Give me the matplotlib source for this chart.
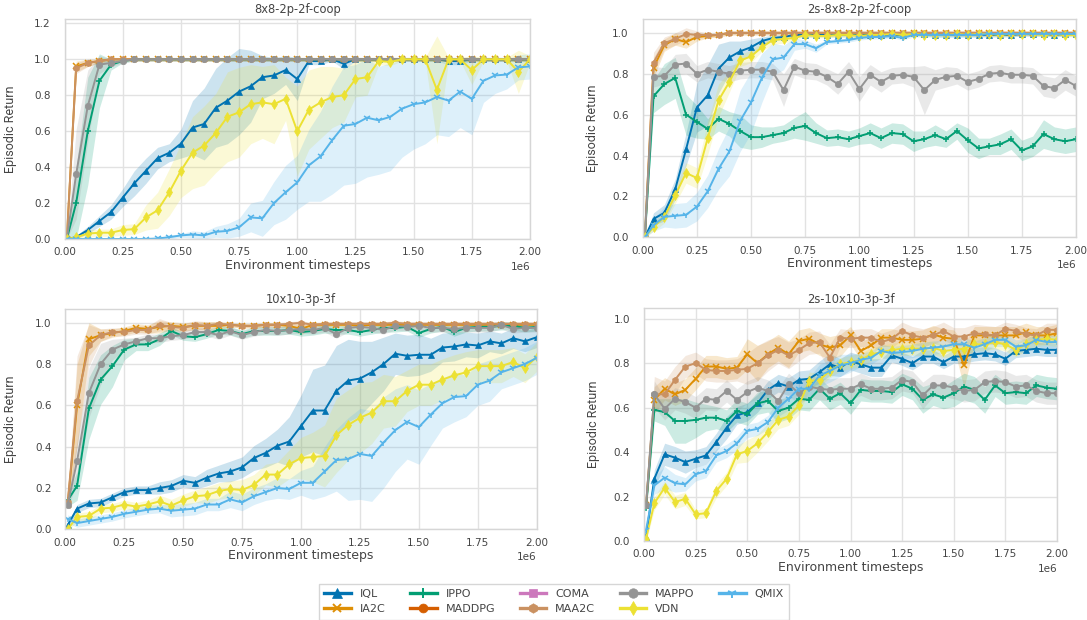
import matplotlib
matplotlib.use("Agg")
import matplotlib.pyplot as plt
from matplotlib.lines import Line2D
import numpy as np

# ---------------- data ----------------
timesteps = [10000] + list(range(50000, 2000001, 50000))

algorithms = ["IQL", "IA2C", "IPPO", "MADDPG", "COMA", "MAA2C", "MAPPO", "VDN", "QMIX"]
colors = ["#0173b2", "#de8f05", "#029e73", "#d55e00", "#cc78bc", "#ca9161", "#949494", "#ece133", "#56b4e9"]
markers = ["^", "x", "+", "o", "s", "h", "o", "d", "1"]
marker_sizes = [4.8, 4.0, 5.0, 4.2, 4.2, 4.6, 4.6, 5.2, 5.0]

titles = ["8x8-2p-2f-coop", "2s-8x8-2p-2f-coop", "10x10-3p-3f", "2s-10x10-3p-3f"]
ytick_sets = [[0.0, 0.2, 0.4, 0.6, 0.8, 1.0, 1.2],
              [0.0, 0.2, 0.4, 0.6, 0.8, 1.0],
              [0.0, 0.2, 0.4, 0.6, 0.8, 1.0],
              [0.0, 0.2, 0.4, 0.6, 0.8, 1.0]]
ytick_labels = [["0.0", "0.2", "0.4", "0.6", "0.8", "1.0", "1.2"],
                ["0.0", "0.2", "0.4", "0.6", "0.8", "1.0"],
                ["0.0", "0.2", "0.4", "0.6", "0.8", "1.0"],
                ["0.0", "0.2", "0.4", "0.6", "0.8", "1.0"]]
xtick_values = [0, 250000, 500000, 750000, 1000000, 1250000, 1500000, 1750000, 2000000]

# ---- panel 1: 8x8-2p-2f-coop ----
coop8_iql = [0.00, 0.01, 0.05, 0.10, 0.15, 0.23, 0.31, 0.38, 0.45, 0.48,
             0.53, 0.62, 0.64, 0.73, 0.77, 0.82, 0.85, 0.90, 0.91, 0.94,
             0.89, 0.99, 0.99, 1.00, 0.975, 1.00, 1.00, 1.00, 1.00, 1.00,
             1.00, 1.00, 1.00, 0.99, 0.99, 1.00, 1.00, 1.00, 1.00, 1.00,
             1.00]
coop8_iql_sd = [0.00, 0.01, 0.02, 0.03, 0.04, 0.05, 0.07, 0.07, 0.06, 0.05,
                0.08, 0.15, 0.20, 0.22, 0.24, 0.24, 0.20, 0.12, 0.10, 0.08,
                0.12, 0.02, 0.02, 0.01, 0.03, 0.01, 0.01, 0.01, 0.01, 0.01,
                0.01, 0.01, 0.01, 0.02, 0.02, 0.01, 0.01, 0.01, 0.01, 0.01,
                0.01]
coop8_ia2c = [0.00, 0.96, 0.98, 0.99, 1.00, 1.00, 1.00, 1.00, 1.00, 1.00,
              1.00, 1.00, 1.00, 1.00, 1.00, 1.00, 1.00, 1.00, 1.00, 1.00,
              1.00, 1.00, 1.00, 1.00, 1.00, 1.00, 1.00, 1.00, 1.00, 1.00,
              1.00, 1.00, 1.00, 1.00, 1.00, 1.00, 1.00, 1.00, 1.00, 1.00,
              1.00]
coop8_ia2c_sd = [0.00, 0.03, 0.02, 0.01, 0.01, 0.01, 0.01, 0.01, 0.01, 0.01,
                 0.01, 0.01, 0.01, 0.01, 0.01, 0.01, 0.01, 0.01, 0.01, 0.01,
                 0.01, 0.01, 0.01, 0.01, 0.01, 0.01, 0.01, 0.01, 0.01, 0.01,
                 0.01, 0.01, 0.01, 0.01, 0.01, 0.01, 0.01, 0.01, 0.01, 0.01,
                 0.01]
coop8_maa2c = [0.00, 0.95, 0.98, 0.99, 1.00, 1.00, 1.00, 1.00, 1.00, 1.00,
               1.00, 1.00, 1.00, 1.00, 1.00, 1.00, 1.00, 1.00, 1.00, 1.00,
               1.00, 1.00, 1.00, 1.00, 1.00, 1.00, 1.00, 1.00, 1.00, 1.00,
               1.00, 1.00, 1.00, 1.00, 1.00, 1.00, 1.00, 1.00, 1.00, 1.00,
               1.00]
coop8_maa2c_sd = [0.00, 0.03, 0.02, 0.01, 0.01, 0.01, 0.01, 0.01, 0.01, 0.01,
                  0.01, 0.01, 0.01, 0.01, 0.01, 0.01, 0.01, 0.01, 0.01, 0.01,
                  0.01, 0.01, 0.01, 0.01, 0.01, 0.01, 0.01, 0.01, 0.01, 0.01,
                  0.01, 0.01, 0.01, 0.01, 0.01, 0.01, 0.01, 0.01, 0.01, 0.01,
                  0.01]
coop8_mappo = [0.00, 0.36, 0.74, 0.97, 0.98, 0.99, 1.00, 1.00, 1.00, 1.00,
               1.00, 1.00, 1.00, 1.00, 1.00, 1.00, 1.00, 1.00, 1.00, 1.00,
               1.00, 1.00, 1.00, 1.00, 1.00, 1.00, 1.00, 1.00, 1.00, 1.00,
               1.00, 1.00, 1.00, 1.00, 1.00, 1.00, 1.00, 1.00, 1.00, 1.00,
               1.00]
coop8_mappo_sd = [0.00, 0.25, 0.20, 0.05, 0.02, 0.01, 0.01, 0.01, 0.01, 0.01,
                  0.01, 0.01, 0.01, 0.01, 0.01, 0.01, 0.01, 0.01, 0.01, 0.01,
                  0.01, 0.01, 0.01, 0.01, 0.01, 0.01, 0.01, 0.01, 0.01, 0.01,
                  0.01, 0.01, 0.01, 0.01, 0.01, 0.01, 0.01, 0.01, 0.01, 0.01,
                  0.01]
coop8_ippo = [0.00, 0.20, 0.60, 0.88, 0.97, 0.99, 1.00, 1.00, 1.00, 1.00,
              1.00, 1.00, 1.00, 1.00, 1.00, 1.00, 1.00, 1.00, 1.00, 1.00,
              1.00, 1.00, 1.00, 1.00, 1.00, 1.00, 1.00, 1.00, 1.00, 1.00,
              1.00, 1.00, 1.00, 1.00, 1.00, 1.00, 1.00, 1.00, 1.00, 1.00,
              1.00]
coop8_ippo_sd = [0.00, 0.20, 0.30, 0.15, 0.03, 0.01, 0.01, 0.01, 0.01, 0.01,
                 0.01, 0.01, 0.01, 0.01, 0.01, 0.01, 0.01, 0.01, 0.01, 0.01,
                 0.01, 0.01, 0.01, 0.01, 0.01, 0.01, 0.01, 0.01, 0.01, 0.01,
                 0.01, 0.01, 0.01, 0.01, 0.01, 0.01, 0.01, 0.01, 0.01, 0.01,
                 0.01]
coop8_vdn = [0.00, 0.01, 0.03, 0.035, 0.035, 0.05, 0.055, 0.12, 0.16, 0.26,
             0.38, 0.48, 0.52, 0.59, 0.68, 0.705, 0.75, 0.76, 0.75, 0.78,
             0.60, 0.72, 0.76, 0.79, 0.80, 0.89, 0.90, 0.99, 0.985, 1.00,
             1.00, 1.00, 0.83, 1.00, 1.00, 0.94, 1.00, 1.00, 1.00, 0.93,
             1.00]
coop8_vdn_sd = [0.00, 0.01, 0.02, 0.02, 0.02, 0.03, 0.03, 0.07, 0.10, 0.13,
                0.15, 0.20, 0.22, 0.22, 0.25, 0.25, 0.22, 0.20, 0.22, 0.12,
                0.25, 0.22, 0.20, 0.17, 0.15, 0.10, 0.10, 0.02, 0.02, 0.01,
                0.01, 0.01, 0.30, 0.01, 0.01, 0.08, 0.01, 0.01, 0.01, 0.12,
                0.02]
coop8_qmix = [0.00, 0.00, 0.00, 0.00, 0.00, 0.00, 0.00, 0.00, 0.003, 0.01,
              0.02, 0.025, 0.02, 0.04, 0.045, 0.065, 0.12, 0.115, 0.20, 0.26,
              0.315, 0.41, 0.46, 0.55, 0.63, 0.64, 0.675, 0.66, 0.68, 0.725,
              0.75, 0.76, 0.79, 0.77, 0.82, 0.78, 0.88, 0.91, 0.915, 0.955,
              0.96]
coop8_qmix_sd = [0.00, 0.00, 0.00, 0.00, 0.00, 0.00, 0.00, 0.00, 0.003, 0.01,
                 0.01, 0.02, 0.02, 0.03, 0.04, 0.05, 0.08, 0.10, 0.12, 0.15,
                 0.15, 0.20, 0.25, 0.30, 0.33, 0.33, 0.33, 0.30, 0.30, 0.27,
                 0.25, 0.23, 0.21, 0.20, 0.20, 0.20, 0.12, 0.10, 0.08, 0.07,
                 0.07]

# ---- panel 2: 2s-8x8-2p-2f-coop ----
s2coop8_iql = [0.00, 0.09, 0.12, 0.235, 0.43, 0.635, 0.695, 0.825, 0.88, 0.91,
               0.93, 0.96, 0.975, 0.98, 0.99, 0.99, 0.99, 0.99, 0.99, 0.99,
               0.99, 0.99, 0.99, 0.99, 0.99, 1.00, 0.995, 0.99, 0.99, 0.99,
               0.99, 0.99, 0.99, 0.99, 0.99, 0.995, 0.995, 0.995, 0.99, 0.995,
               0.995]
s2coop8_iql_sd = [0.00, 0.03, 0.04, 0.05, 0.08, 0.12, 0.15, 0.12, 0.08, 0.05,
                  0.04, 0.02, 0.015, 0.01, 0.01, 0.01, 0.01, 0.01, 0.01, 0.01,
                  0.01, 0.01, 0.01, 0.01, 0.01, 0.01, 0.01, 0.01, 0.01, 0.01,
                  0.01, 0.01, 0.01, 0.01, 0.01, 0.01, 0.01, 0.01, 0.01, 0.01,
                  0.01]
s2coop8_ia2c = [0.00, 0.83, 0.94, 0.97, 0.955, 0.98, 0.985, 0.99, 1.00, 1.00,
                1.00, 1.00, 1.00, 1.00, 1.00, 1.00, 1.00, 1.00, 1.00, 1.00,
                1.00, 1.00, 1.00, 1.00, 1.00, 1.00, 1.00, 1.00, 1.00, 1.00,
                1.00, 1.00, 1.00, 1.00, 1.00, 1.00, 1.00, 1.00, 1.00, 1.00,
                1.00]
s2coop8_ia2c_sd = [0.00, 0.05, 0.03, 0.03, 0.03, 0.02, 0.01, 0.01, 0.01, 0.01,
                   0.01, 0.01, 0.01, 0.01, 0.01, 0.01, 0.01, 0.01, 0.01, 0.01,
                   0.01, 0.01, 0.01, 0.01, 0.01, 0.01, 0.01, 0.01, 0.01, 0.01,
                   0.01, 0.01, 0.01, 0.01, 0.01, 0.01, 0.01, 0.01, 0.01, 0.01,
                   0.01]
s2coop8_maa2c = [0.00, 0.855, 0.95, 0.97, 0.995, 0.99, 0.99, 0.99, 1.00, 1.00,
                 1.00, 1.00, 1.00, 1.00, 1.00, 1.00, 1.00, 1.00, 1.00, 1.00,
                 1.00, 1.00, 1.00, 1.00, 1.00, 1.00, 1.00, 1.00, 1.00, 1.00,
                 1.00, 1.00, 1.00, 1.00, 1.00, 1.00, 1.00, 1.00, 1.00, 1.00,
                 1.00]
s2coop8_maa2c_sd = [0.00, 0.05, 0.03, 0.03, 0.03, 0.02, 0.01, 0.01, 0.01, 0.01,
                    0.01, 0.01, 0.01, 0.01, 0.01, 0.01, 0.01, 0.01, 0.01, 0.01,
                    0.01, 0.01, 0.01, 0.01, 0.01, 0.01, 0.01, 0.01, 0.01, 0.01,
                    0.01, 0.01, 0.01, 0.01, 0.01, 0.01, 0.01, 0.01, 0.01, 0.01,
                    0.01]
s2coop8_mappo = [0.00, 0.785, 0.79, 0.845, 0.85, 0.80, 0.82, 0.81, 0.80, 0.815,
                 0.82, 0.82, 0.81, 0.72, 0.835, 0.815, 0.81, 0.785, 0.75, 0.81,
                 0.725, 0.795, 0.76, 0.79, 0.795, 0.785, 0.72, 0.77, 0.785, 0.79,
                 0.76, 0.775, 0.80, 0.805, 0.795, 0.795, 0.79, 0.74, 0.73, 0.77,
                 0.74]
s2coop8_mappo_sd = [0.00, 0.05, 0.04, 0.05, 0.05, 0.04, 0.04, 0.04, 0.04, 0.04,
                    0.04, 0.04, 0.04, 0.08, 0.04, 0.04, 0.04, 0.04, 0.05, 0.05,
                    0.06, 0.05, 0.05, 0.04, 0.04, 0.05, 0.12, 0.05, 0.05, 0.04,
                    0.04, 0.04, 0.04, 0.04, 0.04, 0.04, 0.04, 0.05, 0.05, 0.05,
                    0.05]
s2coop8_ippo = [0.00, 0.69, 0.75, 0.78, 0.60, 0.565, 0.53, 0.58, 0.555, 0.52,
                0.49, 0.49, 0.50, 0.51, 0.535, 0.545, 0.51, 0.485, 0.49, 0.48,
                0.495, 0.51, 0.485, 0.51, 0.505, 0.47, 0.48, 0.50, 0.48, 0.52,
                0.475, 0.435, 0.445, 0.455, 0.48, 0.425, 0.445, 0.505, 0.48, 0.47,
                0.48]
s2coop8_ippo_sd = [0.00, 0.08, 0.10, 0.10, 0.10, 0.08, 0.05, 0.06, 0.06, 0.08,
                   0.06, 0.05, 0.04, 0.04, 0.05, 0.07, 0.05, 0.04, 0.04, 0.04,
                   0.04, 0.05, 0.05, 0.05, 0.05, 0.05, 0.04, 0.05, 0.04, 0.04,
                   0.06, 0.05, 0.04, 0.05, 0.05, 0.05, 0.05, 0.07, 0.06, 0.06,
                   0.06]
s2coop8_vdn = [0.00, 0.05, 0.10, 0.205, 0.315, 0.29, 0.485, 0.67, 0.76, 0.865,
               0.885, 0.93, 0.965, 0.97, 0.975, 0.99, 0.985, 0.985, 0.99, 0.99,
               0.985, 0.99, 0.99, 0.995, 0.99, 0.995, 0.99, 0.99, 0.99, 0.995,
               0.99, 0.995, 0.995, 0.99, 0.995, 0.995, 0.995, 0.99, 0.995, 0.99,
               0.99]
s2coop8_vdn_sd = [0.00, 0.02, 0.03, 0.04, 0.05, 0.05, 0.08, 0.08, 0.05, 0.03,
                  0.03, 0.02, 0.02, 0.02, 0.01, 0.01, 0.01, 0.01, 0.01, 0.01,
                  0.01, 0.01, 0.01, 0.01, 0.01, 0.01, 0.01, 0.01, 0.01, 0.01,
                  0.01, 0.01, 0.01, 0.01, 0.01, 0.01, 0.01, 0.01, 0.01, 0.01,
                  0.01]
s2coop8_qmix = [0.00, 0.06, 0.10, 0.105, 0.11, 0.15, 0.225, 0.335, 0.42, 0.57,
                0.66, 0.78, 0.87, 0.88, 0.945, 0.945, 0.925, 0.955, 0.96, 0.965,
                0.975, 0.98, 0.98, 0.985, 0.975, 0.99, 0.99, 0.99, 0.99, 0.99,
                0.99, 0.99, 0.995, 0.995, 0.995, 0.995, 0.995, 0.995, 0.995, 0.995,
                0.995]
s2coop8_qmix_sd = [0.00, 0.03, 0.05, 0.06, 0.06, 0.07, 0.08, 0.10, 0.12, 0.15,
                   0.15, 0.12, 0.08, 0.06, 0.03, 0.02, 0.02, 0.01, 0.01, 0.01,
                   0.01, 0.01, 0.01, 0.01, 0.01, 0.01, 0.01, 0.01, 0.01, 0.01,
                   0.01, 0.01, 0.01, 0.01, 0.01, 0.01, 0.01, 0.01, 0.01, 0.01,
                   0.01]

# ---- panel 3: 10x10-3p-3f ----
g10_iql = [0.02, 0.10, 0.125, 0.13, 0.155, 0.18, 0.19, 0.19, 0.20, 0.21,
           0.235, 0.225, 0.25, 0.27, 0.28, 0.30, 0.345, 0.37, 0.405, 0.425,
           0.50, 0.575, 0.575, 0.67, 0.72, 0.73, 0.76, 0.80, 0.85, 0.84,
           0.845, 0.845, 0.88, 0.885, 0.895, 0.89, 0.91, 0.90, 0.925, 0.91,
           0.93]
g10_iql_sd = [0.01, 0.02, 0.02, 0.02, 0.02, 0.02, 0.02, 0.02, 0.03, 0.03,
              0.03, 0.03, 0.04, 0.04, 0.05, 0.05, 0.06, 0.07, 0.08, 0.12,
              0.15, 0.20, 0.22, 0.22, 0.20, 0.18, 0.15, 0.13, 0.10, 0.10,
              0.10, 0.08, 0.07, 0.07, 0.06, 0.06, 0.05, 0.05, 0.05, 0.05,
              0.05]
g10_ia2c = [0.12, 0.60, 0.92, 0.94, 0.95, 0.96, 0.975, 0.97, 0.98, 0.985,
            0.98, 0.985, 0.985, 0.985, 0.99, 0.985, 0.985, 0.99, 0.99, 0.985,
            0.97, 0.99, 0.99, 0.99, 0.99, 0.985, 0.99, 0.99, 0.99, 0.99,
            0.99, 0.99, 0.99, 0.99, 0.99, 0.99, 0.99, 0.99, 0.99, 0.99,
            0.99]
g10_ia2c_sd = [0.02, 0.20, 0.08, 0.03, 0.02, 0.02, 0.02, 0.02, 0.03, 0.02,
               0.02, 0.02, 0.02, 0.02, 0.01, 0.01, 0.01, 0.01, 0.01, 0.01,
               0.03, 0.01, 0.01, 0.01, 0.01, 0.01, 0.01, 0.01, 0.01, 0.01,
               0.01, 0.01, 0.01, 0.01, 0.01, 0.01, 0.01, 0.01, 0.01, 0.01,
               0.01]
g10_maa2c = [0.13, 0.62, 0.89, 0.94, 0.955, 0.955, 0.965, 0.965, 0.99, 0.98,
             0.975, 0.99, 0.985, 0.995, 0.99, 0.985, 0.985, 0.99, 0.99, 0.995,
             1.00, 0.99, 0.995, 0.995, 0.995, 0.995, 0.995, 0.995, 1.00, 0.995,
             0.995, 0.995, 0.995, 0.995, 0.995, 0.995, 0.995, 0.995, 0.995, 0.995,
             0.995]
g10_maa2c_sd = [0.03, 0.22, 0.10, 0.03, 0.02, 0.02, 0.02, 0.02, 0.03, 0.02,
                0.02, 0.02, 0.02, 0.01, 0.01, 0.01, 0.01, 0.01, 0.01, 0.01,
                0.01, 0.01, 0.01, 0.01, 0.01, 0.01, 0.01, 0.01, 0.01, 0.01,
                0.01, 0.01, 0.01, 0.01, 0.01, 0.01, 0.01, 0.01, 0.01, 0.01,
                0.01]
g10_mappo = [0.12, 0.33, 0.66, 0.80, 0.87, 0.895, 0.91, 0.925, 0.925, 0.935,
             0.94, 0.955, 0.955, 0.94, 0.96, 0.94, 0.955, 0.965, 0.96, 0.965,
             0.97, 0.965, 0.975, 0.945, 0.975, 0.98, 0.975, 0.965, 0.985, 0.98,
             0.985, 0.975, 0.975, 0.97, 0.975, 0.975, 0.975, 0.99, 0.97, 0.975,
             0.975]
g10_mappo_sd = [0.02, 0.10, 0.12, 0.10, 0.05, 0.03, 0.02, 0.02, 0.02, 0.02,
                0.02, 0.02, 0.02, 0.02, 0.02, 0.02, 0.02, 0.02, 0.02, 0.02,
                0.02, 0.02, 0.02, 0.02, 0.02, 0.02, 0.02, 0.02, 0.02, 0.02,
                0.02, 0.02, 0.02, 0.02, 0.02, 0.02, 0.02, 0.02, 0.02, 0.02,
                0.02]
g10_ippo = [0.14, 0.21, 0.585, 0.725, 0.79, 0.87, 0.895, 0.895, 0.92, 0.96,
            0.935, 0.93, 0.945, 0.965, 0.96, 0.945, 0.96, 0.96, 0.96, 0.965,
            0.955, 0.96, 0.97, 0.965, 0.965, 0.955, 0.965, 0.975, 0.975, 0.98,
            0.95, 0.97, 0.98, 0.955, 0.975, 0.98, 0.98, 0.985, 0.985, 0.975,
            0.98]
g10_ippo_sd = [0.03, 0.07, 0.15, 0.12, 0.10, 0.05, 0.03, 0.03, 0.03, 0.02,
               0.02, 0.02, 0.02, 0.02, 0.02, 0.02, 0.02, 0.02, 0.02, 0.02,
               0.02, 0.02, 0.02, 0.02, 0.02, 0.02, 0.02, 0.02, 0.02, 0.02,
               0.02, 0.02, 0.02, 0.02, 0.02, 0.02, 0.02, 0.02, 0.02, 0.02,
               0.02]
g10_vdn = [0.00, 0.06, 0.065, 0.10, 0.105, 0.12, 0.11, 0.12, 0.135, 0.115,
           0.14, 0.16, 0.165, 0.185, 0.195, 0.19, 0.215, 0.265, 0.265, 0.315,
           0.345, 0.35, 0.355, 0.455, 0.505, 0.54, 0.565, 0.62, 0.62, 0.67,
           0.70, 0.70, 0.725, 0.745, 0.76, 0.79, 0.79, 0.79, 0.81, 0.78,
           0.835]
g10_vdn_sd = [0.01, 0.02, 0.02, 0.02, 0.02, 0.02, 0.02, 0.02, 0.03, 0.03,
              0.03, 0.03, 0.04, 0.04, 0.04, 0.05, 0.05, 0.05, 0.06, 0.07,
              0.10, 0.12, 0.15, 0.18, 0.17, 0.17, 0.15, 0.13, 0.12, 0.10,
              0.10, 0.10, 0.10, 0.10, 0.10, 0.08, 0.08, 0.08, 0.07, 0.07,
              0.07]
g10_qmix = [0.05, 0.03, 0.04, 0.05, 0.06, 0.075, 0.085, 0.095, 0.10, 0.09,
            0.095, 0.10, 0.12, 0.12, 0.145, 0.13, 0.16, 0.18, 0.20, 0.195,
            0.225, 0.225, 0.28, 0.335, 0.34, 0.365, 0.355, 0.42, 0.48, 0.52,
            0.495, 0.555, 0.61, 0.64, 0.645, 0.70, 0.72, 0.76, 0.78, 0.80,
            0.83]
g10_qmix_sd = [0.02, 0.02, 0.02, 0.02, 0.02, 0.02, 0.02, 0.02, 0.02, 0.03,
               0.03, 0.03, 0.03, 0.03, 0.04, 0.04, 0.04, 0.04, 0.05, 0.05,
               0.06, 0.08, 0.12, 0.15, 0.20, 0.22, 0.22, 0.22, 0.20, 0.18,
               0.18, 0.15, 0.12, 0.12, 0.10, 0.10, 0.10, 0.08, 0.08, 0.08,
               0.08]

# ---- panel 4: 2s-10x10-3p-3f ----
s2g10_iql = [0.02, 0.28, 0.39, 0.375, 0.355, 0.37, 0.385, 0.445, 0.51, 0.565,
             0.58, 0.62, 0.68, 0.71, 0.695, 0.725, 0.73, 0.76, 0.795, 0.78,
             0.81, 0.795, 0.78, 0.78, 0.835, 0.82, 0.80, 0.83, 0.83, 0.805,
             0.83, 0.83, 0.84, 0.845, 0.84, 0.82, 0.855, 0.86, 0.865, 0.86,
             0.86]
s2g10_iql_sd = [0.01, 0.04, 0.05, 0.05, 0.05, 0.04, 0.04, 0.04, 0.05, 0.04,
                0.04, 0.04, 0.04, 0.04, 0.04, 0.04, 0.04, 0.05, 0.05, 0.04,
                0.04, 0.04, 0.04, 0.04, 0.03, 0.03, 0.03, 0.03, 0.03, 0.03,
                0.03, 0.03, 0.03, 0.03, 0.03, 0.03, 0.03, 0.03, 0.03, 0.03,
                0.03]
s2g10_ia2c = [0.16, 0.635, 0.685, 0.66, 0.68, 0.73, 0.785, 0.785, 0.775, 0.78,
              0.84, 0.80, 0.84, 0.87, 0.84, 0.90, 0.91, 0.885, 0.87, 0.88,
              0.925, 0.855, 0.88, 0.915, 0.915, 0.905, 0.905, 0.91, 0.93, 0.915,
              0.91, 0.79, 0.925, 0.925, 0.925, 0.925, 0.925, 0.94, 0.925, 0.925,
              0.935]
s2g10_ia2c_sd = [0.02, 0.06, 0.05, 0.05, 0.05, 0.05, 0.05, 0.05, 0.05, 0.05,
                 0.07, 0.08, 0.06, 0.06, 0.06, 0.05, 0.05, 0.05, 0.05, 0.05,
                 0.04, 0.04, 0.04, 0.04, 0.04, 0.04, 0.04, 0.04, 0.04, 0.04,
                 0.04, 0.10, 0.04, 0.04, 0.04, 0.04, 0.04, 0.04, 0.04, 0.04,
                 0.04]
s2g10_maa2c = [0.16, 0.66, 0.66, 0.725, 0.785, 0.80, 0.77, 0.765, 0.765, 0.77,
               0.775, 0.80, 0.835, 0.86, 0.835, 0.86, 0.89, 0.895, 0.825, 0.915,
               0.91, 0.915, 0.915, 0.895, 0.91, 0.945, 0.925, 0.915, 0.925, 0.945,
               0.92, 0.92, 0.935, 0.93, 0.925, 0.955, 0.945, 0.93, 0.925, 0.95,
               0.95]
s2g10_maa2c_sd = [0.02, 0.08, 0.06, 0.06, 0.05, 0.05, 0.05, 0.05, 0.05, 0.05,
                  0.07, 0.08, 0.07, 0.06, 0.06, 0.05, 0.05, 0.05, 0.06, 0.04,
                  0.04, 0.04, 0.04, 0.04, 0.04, 0.04, 0.04, 0.04, 0.04, 0.04,
                  0.04, 0.04, 0.04, 0.04, 0.04, 0.03, 0.03, 0.03, 0.03, 0.03,
                  0.03]
s2g10_mappo = [0.16, 0.66, 0.595, 0.64, 0.625, 0.60, 0.64, 0.635, 0.675, 0.635,
               0.67, 0.69, 0.675, 0.63, 0.705, 0.665, 0.695, 0.685, 0.68, 0.685,
               0.685, 0.705, 0.685, 0.685, 0.69, 0.725, 0.715, 0.655, 0.70, 0.70,
               0.69, 0.675, 0.68, 0.715, 0.72, 0.715, 0.695, 0.70, 0.675, 0.665,
               0.665]
s2g10_mappo_sd = [0.02, 0.06, 0.05, 0.05, 0.05, 0.05, 0.05, 0.05, 0.05, 0.05,
                  0.05, 0.05, 0.05, 0.06, 0.05, 0.05, 0.05, 0.05, 0.05, 0.05,
                  0.05, 0.05, 0.05, 0.05, 0.05, 0.05, 0.05, 0.06, 0.05, 0.05,
                  0.05, 0.05, 0.05, 0.05, 0.05, 0.05, 0.05, 0.05, 0.05, 0.05,
                  0.05]
s2g10_ippo = [0.15, 0.59, 0.58, 0.54, 0.54, 0.545, 0.555, 0.555, 0.54, 0.585,
              0.57, 0.62, 0.63, 0.585, 0.60, 0.64, 0.635, 0.685, 0.64, 0.665,
              0.62, 0.68, 0.675, 0.675, 0.67, 0.705, 0.685, 0.635, 0.66, 0.645,
              0.665, 0.695, 0.68, 0.635, 0.70, 0.665, 0.67, 0.665, 0.70, 0.69,
              0.685]
s2g10_ippo_sd = [0.02, 0.05, 0.06, 0.10, 0.10, 0.08, 0.06, 0.05, 0.05, 0.05,
                 0.05, 0.05, 0.05, 0.05, 0.05, 0.05, 0.05, 0.05, 0.05, 0.05,
                 0.05, 0.05, 0.05, 0.05, 0.05, 0.05, 0.05, 0.06, 0.05, 0.05,
                 0.06, 0.06, 0.06, 0.06, 0.05, 0.05, 0.05, 0.05, 0.05, 0.05,
                 0.05]
s2g10_vdn = [0.01, 0.17, 0.24, 0.175, 0.19, 0.12, 0.125, 0.225, 0.28, 0.39,
             0.405, 0.44, 0.49, 0.545, 0.56, 0.61, 0.72, 0.725, 0.765, 0.795,
             0.805, 0.815, 0.84, 0.85, 0.86, 0.865, 0.865, 0.865, 0.87, 0.855,
             0.86, 0.865, 0.885, 0.885, 0.895, 0.885, 0.86, 0.885, 0.905, 0.91,
             0.905]
s2g10_vdn_sd = [0.01, 0.03, 0.03, 0.03, 0.03, 0.02, 0.02, 0.03, 0.03, 0.04,
                0.05, 0.04, 0.04, 0.04, 0.04, 0.04, 0.04, 0.03, 0.03, 0.03,
                0.03, 0.03, 0.03, 0.03, 0.03, 0.03, 0.03, 0.03, 0.03, 0.03,
                0.03, 0.03, 0.03, 0.03, 0.03, 0.03, 0.03, 0.03, 0.03, 0.03,
                0.03]
s2g10_qmix = [0.05, 0.25, 0.285, 0.26, 0.255, 0.30, 0.315, 0.385, 0.405, 0.44,
              0.495, 0.505, 0.535, 0.60, 0.64, 0.685, 0.685, 0.745, 0.765, 0.79,
              0.80, 0.815, 0.825, 0.855, 0.845, 0.85, 0.855, 0.865, 0.87, 0.875,
              0.885, 0.885, 0.87, 0.885, 0.905, 0.905, 0.875, 0.88, 0.905, 0.895,
              0.895]
s2g10_qmix_sd = [0.02, 0.04, 0.05, 0.04, 0.03, 0.03, 0.03, 0.03, 0.03, 0.03,
                 0.03, 0.03, 0.03, 0.04, 0.05, 0.05, 0.05, 0.05, 0.05, 0.05,
                 0.04, 0.03, 0.03, 0.03, 0.03, 0.03, 0.03, 0.03, 0.03, 0.03,
                 0.03, 0.03, 0.03, 0.03, 0.03, 0.03, 0.03, 0.03, 0.03, 0.03,
                 0.03]

panels = [
    {"IQL": (coop8_iql, coop8_iql_sd), "IA2C": (coop8_ia2c, coop8_ia2c_sd),
     "IPPO": (coop8_ippo, coop8_ippo_sd), "MAA2C": (coop8_maa2c, coop8_maa2c_sd),
     "MAPPO": (coop8_mappo, coop8_mappo_sd), "VDN": (coop8_vdn, coop8_vdn_sd),
     "QMIX": (coop8_qmix, coop8_qmix_sd)},
    {"IQL": (s2coop8_iql, s2coop8_iql_sd), "IA2C": (s2coop8_ia2c, s2coop8_ia2c_sd),
     "IPPO": (s2coop8_ippo, s2coop8_ippo_sd), "MAA2C": (s2coop8_maa2c, s2coop8_maa2c_sd),
     "MAPPO": (s2coop8_mappo, s2coop8_mappo_sd), "VDN": (s2coop8_vdn, s2coop8_vdn_sd),
     "QMIX": (s2coop8_qmix, s2coop8_qmix_sd)},
    {"IQL": (g10_iql, g10_iql_sd), "IA2C": (g10_ia2c, g10_ia2c_sd),
     "IPPO": (g10_ippo, g10_ippo_sd), "MAA2C": (g10_maa2c, g10_maa2c_sd),
     "MAPPO": (g10_mappo, g10_mappo_sd), "VDN": (g10_vdn, g10_vdn_sd),
     "QMIX": (g10_qmix, g10_qmix_sd)},
    {"IQL": (s2g10_iql, s2g10_iql_sd), "IA2C": (s2g10_ia2c, s2g10_ia2c_sd),
     "IPPO": (s2g10_ippo, s2g10_ippo_sd), "MAA2C": (s2g10_maa2c, s2g10_maa2c_sd),
     "MAPPO": (s2g10_mappo, s2g10_mappo_sd), "VDN": (s2g10_vdn, s2g10_vdn_sd),
     "QMIX": (s2g10_qmix, s2g10_qmix_sd)},
]

# ---------------- layout / style ----------------
W, H = 1087, 620
plt.rcParams["font.family"] = ["DejaVu Sans"]
text_color = "#444444"
grid_color = "#e2e2e2"
spine_color = "#d6d6d6"

# axes boxes in pixels: left, top, right, bottom
boxes_px = [(64.5, 19, 530, 239), (642.7, 19, 1076, 237.3),
            (65.3, 308.7, 536.7, 529.3), (644, 308.3, 1057, 541)]
ylims = [1.224, 1.068, 1.068, 1.047]
ylabel_x = [-0.103, -0.102, -0.1035, -0.1065]

fig = plt.figure(figsize=(W / 100, H / 100), dpi=100)
x = np.array(timesteps, dtype=float)

for p, (l, t, r, b) in enumerate(boxes_px):
    ax = fig.add_axes([l / W, 1 - b / H, (r - l) / W, (b - t) / H])
    ax.set_facecolor("white")
    ax.grid(True, color=grid_color, linewidth=1.0)
    ax.set_axisbelow(True)
    for s in ax.spines.values():
        s.set_color(spine_color)
        s.set_linewidth(1.0)
    for i, alg in enumerate(algorithms):
        if alg not in panels[p]:
            continue
        m, sd = panels[p][alg]
        m = np.array(m)
        sd = np.array(sd)
        ax.fill_between(x, m - sd, m + sd, color=colors[i], alpha=0.2, linewidth=0)
        ax.plot(x, m, color=colors[i], linewidth=1.4, marker=markers[i],
                markersize=marker_sizes[i],
                markeredgewidth=1.1 if markers[i] in "x+1" else 0.5)
    ax.set_xlim(0, 2000000)
    ax.set_ylim(0, ylims[p])
    ax.set_xticks(xtick_values)
    ax.set_yticks(ytick_sets[p])
    ax.set_yticklabels(ytick_labels[p])
    ax.ticklabel_format(axis="x", style="sci", scilimits=(6, 6), useMathText=False)
    ax.tick_params(axis="both", length=0, labelsize=7.5, labelcolor=text_color)
    ax.tick_params(axis="x", pad=6)
    ax.tick_params(axis="y", pad=10)
    ax.xaxis.get_offset_text().set_fontsize(7.5)
    ax.xaxis.get_offset_text().set_color(text_color)
    ax.set_title(titles[p], fontsize=8.3, color=text_color, pad=4)
    ax.set_xlabel("Environment timesteps", fontsize=9, color=text_color, labelpad=1)
    ax.set_ylabel("Episodic Return", fontsize=9, color=text_color,
                  family=["Liberation Sans Narrow", "Roboto", "DejaVu Sans"])
    ax.yaxis.set_label_coords(ylabel_x[p], 0.5)

handles = [Line2D([0], [0], color=colors[i], linewidth=2.4, marker=markers[i],
                  markersize=marker_sizes[i] + 2.2,
                  markeredgewidth=1.4 if markers[i] in "x+1" else 0.5)
           for i in range(len(algorithms))]
leg = fig.legend(handles, algorithms, loc="upper center", ncol=5,
                 bbox_to_anchor=(554 / W, 1 - 578 / H), fontsize=8,
                 frameon=True, fancybox=False, edgecolor="#cccccc",
                 handlelength=2.4, handletextpad=0.8, columnspacing=2.2,
                 labelspacing=0.45, borderpad=0.5)
for txt in leg.get_texts():
    txt.set_color(text_color)
leg.get_frame().set_linewidth(1.0)

fig.savefig("out.png", dpi=100)
